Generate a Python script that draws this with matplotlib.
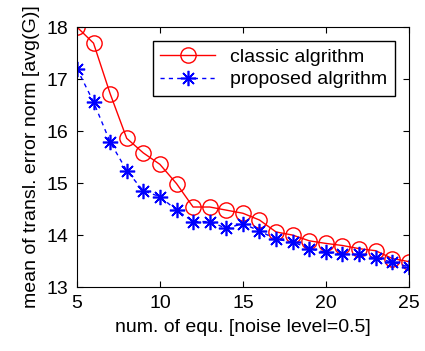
import numpy as np
import matplotlib.pyplot as plt

plt.rcParams['font.family'] = ['Liberation Sans', 'DejaVu Sans']

n_equ = list(range(5, 26))
classic = [18.0, 17.69, 16.72, 15.86, 15.58, 15.36, 14.99, 14.54, 14.54, 14.48, 14.42,
           14.29, 14.06, 14.0, 13.89, 13.84, 13.80, 13.74, 13.70, 13.55, 13.49]
proposed = [17.2, 16.56, 15.79, 15.24, 14.85, 14.74, 14.48, 14.26, 14.26, 14.13, 14.22,
            14.08, 13.92, 13.87, 13.74, 13.67, 13.63, 13.63, 13.56, 13.48, 13.39]

fig = plt.figure(figsize=(4.25, 3.51), dpi=100)
ax = fig.add_axes([0.181, 0.182, 0.781, 0.741])

ax.plot(n_equ, classic, '-o', color='red', mfc='none', ms=11, lw=1, mew=1,
        label='classic algrithm')
ax.plot(n_equ, proposed, '--', marker=(8, 2, 0), color='blue', ms=11, lw=1, mew=1.2,
        dashes=(3, 3), label='proposed algrithm')

ax.set_xlim(5, 25)
ax.set_ylim(13, 18)
ax.set_xticks([5, 10, 15, 20, 25])
ax.set_yticks([13, 14, 15, 16, 17, 18])
ax.tick_params(direction='in', top=True, right=True, labelsize=14, length=4, pad=6)
ax.set_xlabel('num. of equ. [noise level=0.5]', fontsize=14, labelpad=5)
ax.set_ylabel('mean of transl. error norm [avg(G)]', fontsize=14, labelpad=5)

leg = ax.legend(loc='upper right', fontsize=14, fancybox=False, edgecolor='black',
                framealpha=1, handlelength=2.8, borderaxespad=0.7,
                borderpad=0.4, labelspacing=0.25, handletextpad=0.8)
leg.get_frame().set_linewidth(1)

fig.savefig('out.png', dpi=100)
